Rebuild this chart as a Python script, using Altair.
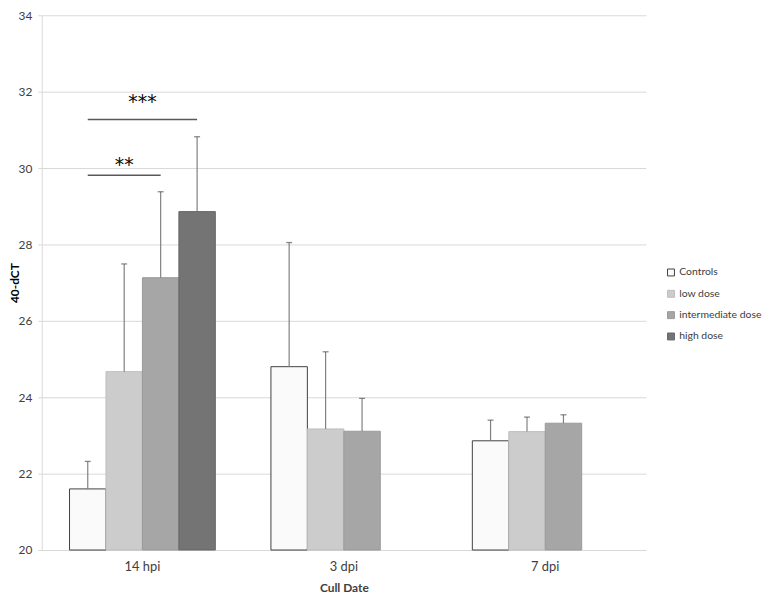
import altair as alt
import pandas as pd

dates = ["14 hpi", "3 dpi", "7 dpi"]
groups = ["Controls", "low dose", "intermediate dose", "high dose"]

controls = [21.60, 24.80, 22.86]
low_dose = [24.67, 23.17, 23.10]
intermediate_dose = [27.13, 23.11, 23.32]
high_dose = [28.86, None, None]

controls_err = [0.72, 3.25, 0.54]
low_dose_err = [2.82, 2.02, 0.38]
intermediate_dose_err = [2.25, 0.86, 0.22]
high_dose_err = [1.96, None, None]

fills = ["#fafafa", "#cccccc", "#a6a6a6", "#747474"]
strokes = ["#404040", "#bdbdbd", "#9a9a9a", "#666666"]

# significance annotations (14 hpi)
sig_pairs = ["a", "a", "b", "b"]
sig_groups = ["Controls", "intermediate dose", "Controls", "high dose"]
sig_levels = [29.81, 29.81, 31.27, 31.27]
sig_text = ["**", "***"]
sig_text_y = [29.92, 31.58]

rows = []
for g, vals, errs in zip(groups,
                         [controls, low_dose, intermediate_dose, high_dose],
                         [controls_err, low_dose_err, intermediate_dose_err, high_dose_err]):
    for d, v, e in zip(dates, vals, errs):
        if v is None:
            continue
        rows.append({"date": d, "group": g, "value": v, "upper": v + e, "base": 20})
df = pd.DataFrame(rows)

sig_df = pd.DataFrame({"date": ["14 hpi"] * 4, "group": sig_groups,
                       "y": sig_levels, "pair": sig_pairs})
txt_df = pd.DataFrame({"date": ["14 hpi", "14 hpi"], "group": ["low dose", "low dose"],
                       "y": sig_text_y, "t": sig_text, "shift": [0, 18.4]})

FONT = "Lato"

x_enc = alt.X("date:N", sort=dates,
              scale=alt.Scale(domain=dates, paddingInner=0.276, paddingOuter=0.138),
              axis=alt.Axis(title="Cull Date", labelAngle=0, ticks=False, grid=False,
                            domainColor="#d9d9d9", labelColor="#404040", labelFontSize=13,
                            labelPadding=11, titleFontSize=12, titleFontWeight="bold",
                            titleColor="#404040", titlePadding=9, labelFont=FONT, titleFont=FONT))
xo_enc = alt.XOffset("group:N", sort=groups, scale=alt.Scale(domain=groups))
y_scale = alt.Scale(domain=[20, 34], zero=False, nice=False)

bars = alt.Chart(df).mark_bar(strokeWidth=1).encode(
    x=x_enc,
    xOffset=xo_enc,
    y=alt.Y("value:Q", scale=y_scale,
            axis=alt.Axis(title="40-dCT", values=[20, 22, 24, 26, 28, 30, 32, 34],
                          tickSize=4, tickColor="#d9d9d9", domainColor="#d9d9d9",
                          gridColor="#d9d9d9", labelColor="#404040", labelFontSize=12,
                          labelPadding=6, titleFontSize=12, titleFontWeight="bold",
                          titleColor="#000000", titleX=-20, labelFont=FONT, titleFont=FONT)),
    y2="base:Q",
    color=alt.Color("group:N", sort=groups,
                    scale=alt.Scale(domain=groups, range=fills),
                    legend=alt.Legend(title=None, orient="none", legendX=629, legendY=254,
                                      symbolType="square", symbolSize=49,
                                      symbolStrokeWidth=1, labelFontSize=10.5,
                                      labelColor="#404040", labelFont=FONT,
                                      rowPadding=9.5, padding=0, labelOffset=3)),
    stroke=alt.Stroke("group:N", sort=groups,
                      scale=alt.Scale(domain=groups, range=strokes), legend=None),
)

err = alt.Chart(df).mark_rule(color="#808080", strokeWidth=1.2).encode(
    x=alt.X("date:N", sort=dates), xOffset=alt.XOffset("group:N", sort=groups),
    y=alt.Y("value:Q", scale=y_scale), y2="upper:Q")

caps = alt.Chart(df).mark_tick(color="#595959", thickness=1.3, size=6).encode(
    x=alt.X("date:N", sort=dates), xOffset=alt.XOffset("group:N", sort=groups),
    y=alt.Y("upper:Q", scale=y_scale))

sig = alt.Chart(sig_df).mark_line(color="#595959", strokeWidth=1.6).encode(
    x=alt.X("date:N", sort=dates), xOffset=alt.XOffset("group:N", sort=groups),
    y=alt.Y("y:Q", scale=y_scale), detail="pair:N")

stars_a = alt.Chart(txt_df[txt_df["shift"] == 0]).mark_text(
    fontSize=19, font="DejaVu Sans", color="#000000", baseline="alphabetic").encode(
    x=alt.X("date:N", sort=dates), xOffset=alt.XOffset("group:N", sort=groups),
    y=alt.Y("y:Q", scale=y_scale), text="t:N")
stars_b = alt.Chart(txt_df[txt_df["shift"] > 0]).mark_text(
    fontSize=19, font="DejaVu Sans", color="#000000", baseline="alphabetic", dx=18.4).encode(
    x=alt.X("date:N", sort=dates), xOffset=alt.XOffset("group:N", sort=groups),
    y=alt.Y("y:Q", scale=y_scale), text="t:N")

chart = alt.layer(bars, err, caps, sig, stars_a, stars_b).properties(
    width=609, height=539,
    autosize=alt.AutoSizeParams(type="none"),
    padding={"left": 34, "top": 5, "right": 119, "bottom": 43}
).configure(background="#ffffff").configure_view(stroke=None)

chart.save("out.html", embed_options={"renderer": "svg", "actions": False})
